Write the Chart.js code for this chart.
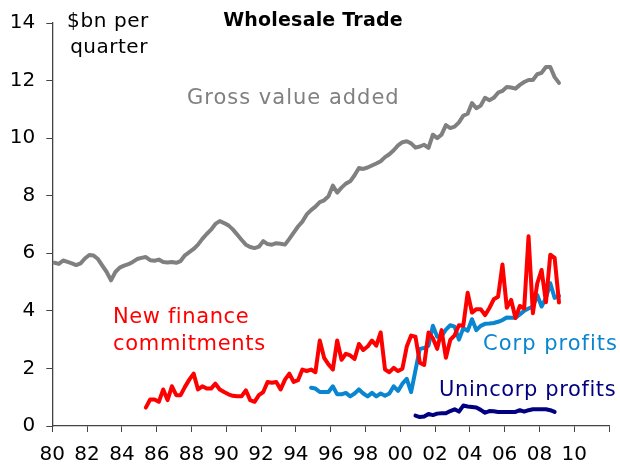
<!DOCTYPE html>
<html>
<head>
<meta charset="utf-8">
<script src="https://cdn.jsdelivr.net/npm/chart.js@4.4.0/dist/chart.umd.min.js"></script>
<style>
  html, body { margin: 0; padding: 0; background: #fff; }
  #wrap { width: 620px; height: 470px; position: relative; }
</style>
</head>
<body>
<div id="wrap"><canvas id="myChart"></canvas></div>
<script>
// quarterly data, $bn per quarter. start = [year, quarter] of the first value
const gvaStart = [1980, 1];
const gva = [
  5.67, 5.63, 5.75, 5.70, 5.65, 5.59, 5.65, 5.82, 5.94, 5.92,
  5.80, 5.57, 5.35, 5.06, 5.35, 5.50, 5.57, 5.62, 5.70, 5.80,
  5.84, 5.87, 5.76, 5.74, 5.78, 5.70, 5.68, 5.70, 5.67, 5.73,
  5.93, 6.04, 6.15, 6.30, 6.50, 6.67, 6.82, 7.02, 7.12, 7.05,
  6.97, 6.83, 6.65, 6.47, 6.30, 6.22, 6.18, 6.23, 6.42, 6.32,
  6.30, 6.35, 6.33, 6.30, 6.50, 6.72, 6.93, 7.10, 7.35, 7.50,
  7.62, 7.78, 7.84, 7.98, 8.35, 8.11, 8.28, 8.42, 8.50, 8.71,
  8.96, 8.93, 8.98, 9.05, 9.12, 9.20, 9.34, 9.44, 9.58, 9.75,
  9.86, 9.89, 9.82, 9.67, 9.71, 9.77, 9.66, 10.12, 10.00, 10.12,
  10.45, 10.35, 10.40, 10.55, 10.78, 10.85, 11.22, 11.04, 11.13, 11.40,
  11.32, 11.40, 11.58, 11.64, 11.78, 11.76, 11.72, 11.85, 11.95, 12.02,
  12.02, 12.22, 12.27, 12.47, 12.47, 12.12, 11.92
];

const financeStart = [1985, 2];
const finance = [
  0.64, 0.92, 0.92, 0.84, 1.27, 0.90, 1.38, 1.07, 1.07, 1.36,
  1.61, 1.82, 1.27, 1.38, 1.30, 1.30, 1.47, 1.27, 1.18, 1.10,
  1.05, 1.03, 1.03, 1.24, 0.90, 0.84, 1.07, 1.18, 1.53, 1.50,
  1.53, 1.27, 1.61, 1.82, 1.53, 1.59, 1.96, 1.91, 1.96, 1.87,
  2.97, 2.37, 2.14, 1.96, 2.97, 2.30, 2.51, 2.45, 2.33, 2.85,
  2.64, 2.76, 2.97, 2.79, 3.25, 1.96, 1.87, 2.02, 1.91, 1.99,
  2.76, 3.14, 3.10, 2.20, 2.12, 3.25, 3.05, 2.68, 3.33, 2.37,
  2.99, 3.15, 3.50, 3.48, 4.63, 3.94, 4.06, 4.06, 3.85, 4.10,
  4.40, 4.49, 5.61, 4.11, 4.38, 3.75, 4.17, 4.08, 6.59, 3.92,
  4.95, 5.42, 4.30, 5.95, 5.84, 4.29
];

const corpStart = [1994, 4];
const corp = [
  1.33, 1.30, 1.18, 1.18, 1.18, 1.38, 1.10, 1.10, 1.15, 1.03,
  1.13, 1.27, 1.13, 1.03, 1.15, 1.03, 1.13, 1.05, 1.13, 1.38,
  1.22, 1.47, 1.64, 1.18, 1.93, 2.68, 2.71, 2.79, 3.48, 3.10,
  3.12, 3.35, 3.50, 3.45, 3.00, 3.40, 3.31, 3.71, 3.33, 3.48,
  3.55, 3.56, 3.58, 3.62, 3.68, 3.77, 3.76, 3.76, 3.88, 4.00,
  4.08, 4.15, 4.55, 4.15, 4.45, 4.96, 4.45, 4.52
];

const unincorpStart = [2000, 4];
const unincorp = [
  0.36, 0.31, 0.33, 0.42, 0.38, 0.43, 0.44, 0.44, 0.52, 0.58,
  0.50, 0.71, 0.68, 0.66, 0.64, 0.56, 0.46, 0.52, 0.51, 0.49,
  0.49, 0.49, 0.49, 0.49, 0.55, 0.50, 0.55, 0.58, 0.58, 0.58,
  0.58, 0.55, 0.49
];

// points sit in the middle of their quarter
function quarterly(start, values) {
  return values.map((v, i) => ({
    x: start[0] + (start[1] - 1 + i) * 0.25 + 0.125,
    y: v
  }));
}

const axisColor = '#444';
const font = 'DejaVu Sans';

// free text on the chart (title, units, series names)
const notes = [
  { text: 'Wholesale Trade', x: 313, y: 26, align: 'center', color: '#000', font: 'bold 19px ' + font, spacing: '0.2px' },
  { text: '$bn per', x: 108, y: 27, align: 'center', color: '#000', font: '20px ' + font, spacing: '0.6px' },
  { text: 'quarter', x: 109, y: 53, align: 'center', color: '#000', font: '20px ' + font, spacing: '0.5px' },
  { text: 'Gross value added', x: 187, y: 104, align: 'left', color: '#808080', font: '21px ' + font, spacing: '1px' },
  { text: 'New finance', x: 113, y: 323, align: 'left', color: '#ff0000', font: '21px ' + font, spacing: '0.6px' },
  { text: 'commitments', x: 113, y: 350, align: 'left', color: '#ff0000', font: '21px ' + font, spacing: '0.7px' },
  { text: 'Corp profits', x: 483, y: 350, align: 'left', color: '#0a86d0', font: '21px ' + font, spacing: '1px' },
  { text: 'Unincorp profits', x: 439, y: 396, align: 'left', color: '#000080', font: '21px ' + font, spacing: '0.6px' }
];

const notesPlugin = {
  id: 'notes',
  afterDraw(chart) {
    const c = chart.ctx;
    c.save();
    c.textBaseline = 'alphabetic';
    notes.forEach(n => {
      c.font = n.font;
      c.letterSpacing = n.spacing;
      c.fillStyle = n.color;
      c.textAlign = n.align;
      c.fillText(n.text, n.x, n.y);
    });
    c.restore();
  }
};

const line = (data, color) => ({
  data: data,
  borderColor: color,
  backgroundColor: color,
  borderWidth: 4,
  pointRadius: 0,
  tension: 0,
  fill: false,
  borderJoinStyle: 'round',
  borderCapStyle: 'round'
});

const ctx = document.getElementById('myChart').getContext('2d');
const myChart = new Chart(ctx, {
  type: 'line',
  data: {
    datasets: [
      line(quarterly(gvaStart, gva), '#808080'),
      line(quarterly(financeStart, finance), '#ff0000'),
      line(quarterly(corpStart, corp), '#0a86d0'),
      line(quarterly(unincorpStart, unincorp), '#000080')
    ]
  },
  options: {
    responsive: true,
    maintainAspectRatio: false,
    animation: false,
    layout: { padding: { top: 20, right: 6.7, left: 0, bottom: 0 } },
    plugins: {
      legend: { display: false },
      tooltip: { enabled: false },
      title: { display: false }
    },
    scales: {
      x: {
        type: 'linear',
        min: 1980,
        max: 2012,
        afterFit: s => { s.height = 44; },
        grid: { drawOnChartArea: false, drawTicks: true, tickLength: 6, color: axisColor },
        border: { display: true, color: axisColor, width: 1.3 },
        ticks: {
          stepSize: 2,
          autoSkip: false,
          maxRotation: 0,
          padding: 11,
          color: '#000',
          font: { family: font, size: 20 },
          callback: v => v >= 2012 ? '' : String(v % 100).padStart(2, '0')
        }
      },
      y: {
        min: 0,
        max: 14,
        afterFit: s => { s.width = 52.3; },
        grid: { drawOnChartArea: false, drawTicks: true, tickLength: 6, color: axisColor },
        border: { display: true, color: axisColor, width: 1.3 },
        ticks: {
          stepSize: 2,
          padding: 11,
          color: '#000',
          font: { family: font, size: 20 }
        }
      }
    }
  },
  plugins: [notesPlugin]
});
</script>
</body>
</html>
